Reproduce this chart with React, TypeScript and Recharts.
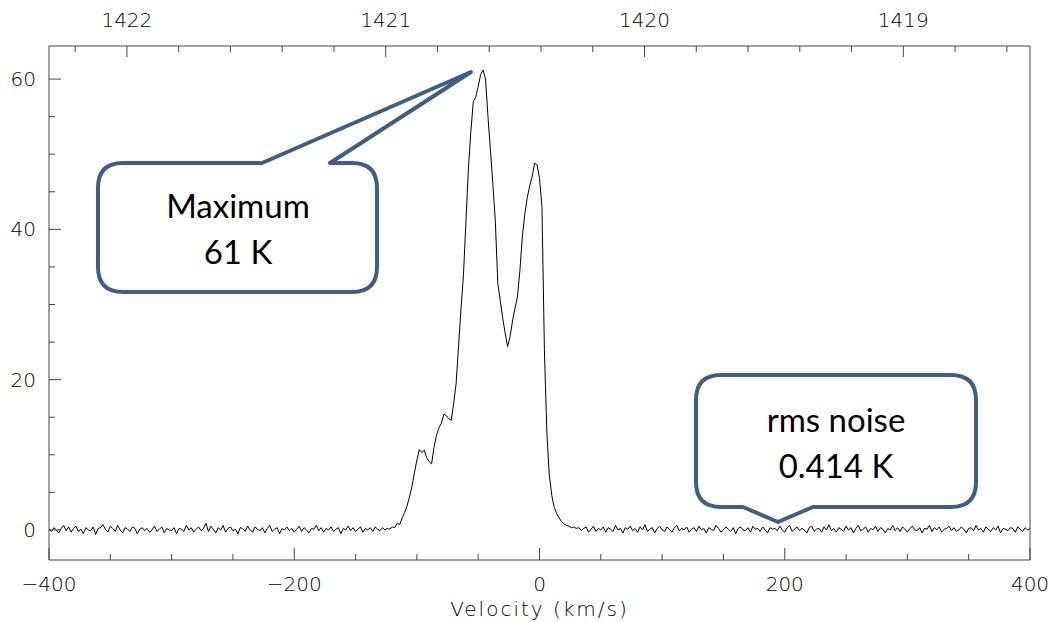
import React from 'react';
import { LineChart, Line, XAxis, YAxis, Label } from 'recharts';

// HI spectrum, brightness temperature (K) vs velocity (km/s)
const leftBaseline = [
  0.1, -0.2, 0.3, 0.0, -0.4, 0.2, 0.6, -0.1, 0.4, -0.3,
  0.2, 0.5, -0.2, 0.1, -0.5, 0.3, 0.0, -0.1, 0.4, -0.6,
  0.2, 0.3, 0.7, 0.1, -0.3, 0.5, 0.2, -0.2, 0.6, 0.0,
  -0.4, 0.3, 0.1, -0.2, 0.4, 0.2, -0.5, 0.1, 0.3, -0.1,
  0.2, -0.3, 0.0, 0.5, -0.2, 0.1, 0.4, -0.4, 0.2, 0.0,
  -0.1, 0.3, -0.5, 0.2, 0.1, -0.2, 0.6, 0.0, 0.3, -0.3,
  0.1, 0.4, -0.1, 0.2, 0.9, -0.2, 0.5, 0.1, -0.4, 0.3,
  0.0, 0.6, -0.3, 0.2, 0.4, -0.1, 0.1, -0.5, 0.3, 0.2,
  -0.2, 0.5, 0.0, -0.3, 0.4, 0.1, -0.1, 0.3, -0.4, 0.2,
  0.6, -0.2, 0.1, 0.3, -0.5, 0.2, 0.0, 0.4, -0.1, 0.2,
  -0.3, 0.1, 0.5, -0.2, 0.3, 0.0, -0.4, 0.2, 0.1, 0.6,
  -0.1, 0.3, -0.3, 0.2, 0.0, 0.4, -0.2, 0.1, 0.3, -0.5,
  0.2, 0.0, 0.5, -0.1, 0.3, -0.2, 0.1, 0.4,
  -0.3, 0.2, 0.0, 0.3, -0.2, 0.4, 0.1, -0.1, 0.3, 0.0,
];
const leftStart = -400;

const lineProfile = [
  0.2, 0.1, 0.4, 0.3, 0.9, 0.7, 1.6, 2.3, 3.2, 4.4,
  5.8, 7.6, 9.3, 10.7, 10.3, 10.6, 9.6, 9.1, 8.8, 11.0,
  12.6, 13.6, 14.2, 15.4, 15.2, 14.8, 14.6, 16.8, 19.5, 24.5,
  29.5, 34.0, 41.0, 48.0, 53.0, 57.0, 57.6, 59.0, 60.6, 61.2,
  60.0, 55.0, 50.5, 46.0, 41.0, 32.8, 30.5, 28.2, 26.2, 24.4,
  25.7, 27.8, 29.5, 31.0, 34.5, 39.0, 42.0, 44.2, 45.8, 47.0,
  48.8, 48.6, 46.8, 43.0, 24.0, 13.0, 7.3, 4.6, 3.0, 2.2,
  1.6, 1.1, 0.8, 0.6, 0.5, 0.3, 0.4, 0.2,
];
const lineStart = -124;

const rightBaseline = [
  0.3, -0.1, 0.2, 0.4, -0.3, 0.1, 0.5, -0.2, 0.2, 0.0,
  0.4, -0.3, 0.3, 0.1, -0.2, 0.6, 0.0, 0.2, -0.4, 0.3,
  0.1, 0.5, -0.1, 0.2, -0.3, 0.4, 0.0, 0.7, -0.2, 0.1,
  0.3, -0.4, 0.2, 0.5, 0.0, -0.2, 0.4, 0.1, -0.3, 0.3,
  0.6, -0.1, 0.2, 0.0, 0.4, -0.3, 0.1, 0.3, -0.2, 0.5,
  0.0, 0.2, -0.4, 0.3, 0.1, -0.1, 0.6, 0.2, -0.3, 0.0,
  0.4, 0.1, -0.2, 0.3, -0.5, 0.2, 0.4, 0.0, -0.1, 0.3,
  -0.3, 0.5, 0.1, 0.2, -0.2, 0.4, 0.0, -0.4, 0.3, 0.1,
  0.2, -0.1, 0.5, 0.0, -0.3, 0.3, 0.6, -0.2, 0.1, 0.4,
  -0.1, 0.2, 0.0, -0.4, 0.3, 0.5, -0.2, 0.1, 0.2, -0.3,
  0.4, 0.0, 0.7, -0.1, 0.2, -0.3, 0.3, 0.1, -0.2, 0.5,
  0.0, 0.3, -0.4, 0.2, 0.6, -0.1, 0.1, 0.4, -0.3, 0.2,
  0.0, 0.5, -0.2, 0.3, 0.1, -0.4, 0.2, 0.0, 0.6, -0.1,
  0.3, -0.2, 0.4, 0.1, -0.3, 0.2, 0.5, 0.0, -0.1, 0.3,
  -0.4, 0.2, 0.1, 0.6, -0.2, 0.3, 0.0, 0.4, -0.3, 0.1,
  0.2, 0.5, -0.1, 0.3, -0.2, 0.0, 0.4, 0.1, -0.4, 0.2,
  0.3, -0.1, 0.6, 0.0, 0.2, -0.3, 0.4, 0.1, -0.2, 0.3,
  0.0, 0.5, -0.4, 0.2, 0.1, -0.1, 0.3, 0.2, -0.3, 0.4,
  0.1, -0.2, 0.3, 0.0, 0.2,
];
const rightStart = 32;
const channelStep = 2;

const velocityTicks = [-400, -350, -300, -250, -200, -150, -100, -50, 0, 50, 100, 150, 200, 250, 300, 350, 400];
const tempTicks = [0, 5, 10, 15, 20, 25, 30, 35, 40, 45, 50, 55, 60];
const freqTicks = [
  1422.2, 1422.0, 1421.8, 1421.6, 1421.4, 1421.2, 1421.0, 1420.8, 1420.6, 1420.4,
  1420.2, 1420.0, 1419.8, 1419.6, 1419.4, 1419.2, 1419.0, 1418.8, 1418.6,
];

const REST_FREQ = 1420.405751; // MHz
const C_KMS = 299792.458;
const freqToVel = (f: number) => C_KMS * (1 - f / REST_FREQ);

const toPoints = (vals: number[], start: number) =>
  vals.map((t, i) => ({ v: start + i * channelStep, t }));

const data = [
  ...toPoints(leftBaseline, leftStart),
  ...toPoints(lineProfile, lineStart),
  ...toPoints(rightBaseline, rightStart),
];

const axisColor = '#444';
const tickFont = { fontFamily: '"DejaVu Sans", sans-serif', fontSize: 20, fontWeight: 200, fill: '#000' } as const;
const calloutBlue = '#3d5e8c';

const fmtNum = (n: number) => (n < 0 ? `\u2212${Math.abs(n)}` : `${n}`);

const BottomTick = (props: any) => {
  const { x, y, payload } = props;
  const major = payload.value % 200 === 0;
  return (
    <g>
      <line x1={x} x2={x} y1={y} y2={y - (major ? 12 : 6)} stroke={axisColor} />
      {major && (
        <text x={x} y={y + 31} textAnchor="middle" {...tickFont}>
          {fmtNum(payload.value)}
        </text>
      )}
    </g>
  );
};

const TopTick = (props: any) => {
  const { x, y, index } = props;
  const f = freqTicks[index];
  const major = Math.abs(f - Math.round(f)) < 1e-6;
  return (
    <g>
      <line x1={x} x2={x} y1={y} y2={y + (major ? 11 : 6)} stroke={axisColor} />
      {major && (
        <text x={x} y={y - 19} textAnchor="middle" {...tickFont}>
          {Math.round(f)}
        </text>
      )}
    </g>
  );
};

const LeftTick = (props: any) => {
  const { x, y, payload } = props;
  const major = payload.value % 20 === 0;
  return (
    <g>
      <line x1={x} x2={x + (major ? 12 : 6)} y1={y} y2={y} stroke={axisColor} />
      {major && (
        <text x={x - 13} y={y + 7} textAnchor="end" {...tickFont}>
          {payload.value}
        </text>
      )}
    </g>
  );
};

const RightTick = (props: any) => {
  const { x, y, payload } = props;
  const major = payload.value % 20 === 0;
  return <line x1={x} x2={x - (major ? 12 : 6)} y1={y} y2={y} stroke={axisColor} />;
};

const calloutText = { fontFamily: 'Lato, "Open Sans", sans-serif', fontSize: 33, fill: '#000' } as const;

const Callouts = () => (
  <svg width={1050} height={622} style={{ position: 'absolute', left: 0, top: 0, pointerEvents: 'none' }}>
    <path
      d="M 123 163 L 262 163 L 471 72 L 330 163 L 352 163 Q 377 163 377 188 L 377 267 Q 377 292 352 292 L 123 292 Q 98 292 98 267 L 98 188 Q 98 163 123 163 Z"
      fill="#fff"
      stroke={calloutBlue}
      strokeWidth={4}
      strokeLinejoin="round"
    />
    <text x={238} y={218} textAnchor="middle" {...calloutText}>Maximum</text>
    <text x={238} y={264} textAnchor="middle" {...calloutText}>61 K</text>
    <path
      d="M 721 375 L 951 375 Q 976 375 976 400 L 976 482 Q 976 507 951 507 L 813 507 L 778 522 L 743 507 L 721 507 Q 696 507 696 482 L 696 400 Q 696 375 721 375 Z"
      fill="#fff"
      stroke={calloutBlue}
      strokeWidth={4}
      strokeLinejoin="round"
    />
    <text x={836} y={432} textAnchor="middle" {...calloutText}>rms noise</text>
    <text x={836} y={478} textAnchor="middle" {...calloutText}>0.414 K</text>
  </svg>
);

const App = () => {
  return (
    <div style={{ position: 'absolute', left: 0, top: 0, width: 1050, height: 622, background: '#fff', overflow: 'hidden' }}>
      <LineChart width={1050} height={622} data={data} margin={{ top: 0, right: 0, bottom: 0, left: 0 }}>
        <XAxis
          dataKey="v"
          type="number"
          domain={[-400, 400]}
          ticks={velocityTicks}
          height={62}
          tickSize={0}
          tickMargin={0}
          tick={<BottomTick />}
          axisLine={{ stroke: axisColor }}
          interval={0}
        >
          <Label
            value="Velocity (km/s)"
            position="insideBottom"
            offset={6}
            style={{ ...tickFont, letterSpacing: 2, textAnchor: 'middle' }}
          />
        </XAxis>
        <XAxis
          xAxisId="top"
          orientation="top"
          dataKey="v"
          type="number"
          domain={[-400, 400]}
          ticks={freqTicks.map(freqToVel)}
          height={46}
          tickSize={0}
          tickMargin={0}
          tick={<TopTick />}
          axisLine={{ stroke: axisColor }}
          interval={0}
        />
        <YAxis
          type="number"
          domain={[-4, 64.4]}
          ticks={tempTicks}
          width={49}
          tickSize={0}
          tickMargin={0}
          tick={<LeftTick />}
          axisLine={{ stroke: axisColor }}
          interval={0}
        />
        <YAxis
          yAxisId="right"
          orientation="right"
          type="number"
          domain={[-4, 64.4]}
          ticks={tempTicks}
          width={20}
          tickSize={0}
          tickMargin={0}
          tick={<RightTick />}
          axisLine={{ stroke: axisColor }}
          interval={0}
        />
        <Line
          type="linear"
          dataKey="t"
          stroke="#000"
          strokeWidth={1}
          dot={false}
          isAnimationActive={false}
        />
      </LineChart>
      <Callouts />
    </div>
  );
};

export default App;
